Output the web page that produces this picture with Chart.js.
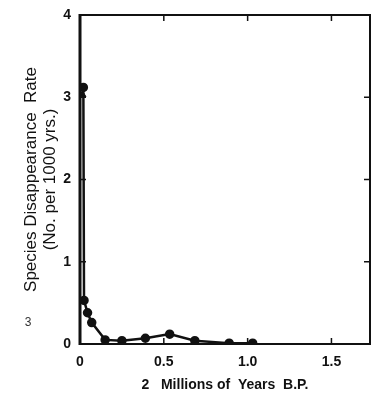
<!DOCTYPE html>
<html>
<head>
<meta charset="utf-8">
<script src="https://cdn.jsdelivr.net/npm/chart.js@4.4.1/dist/chart.umd.min.js"></script>
<style>
  html, body { margin: 0; padding: 0; background: #fff; }
  canvas { display: block; }
</style>
</head>
<body>
<canvas id="c" width="382" height="400"></canvas>
<script>
// values
const yearsMy = [0.02, 0.024, 0.045, 0.07, 0.15, 0.25, 0.39, 0.535, 0.685, 0.89, 1.03];
const rates   = [3.12, 0.53, 0.38, 0.26, 0.05, 0.04, 0.07, 0.12, 0.04, 0.01, 0.01];
const triangleX = [0.015];
const triangleY = [3.03];
const xTicks = [0, 0.5, 1.0, 1.5];
const yTicks = [0, 1, 2, 3, 4];
const xLabels = ["0", "0.5", "1.0", "1.5"];

const ink = "#111";
const font = "'Liberation Sans', Arial, Helvetica, sans-serif";

// frame + inward ticks on all four sides
const framePlugin = {
    id: "frame",
    afterDraw(chart) {
        const { ctx, chartArea: a, scales } = chart;
        ctx.save();
        ctx.strokeStyle = ink;
        ctx.lineWidth = 2;
        ctx.strokeRect(a.left, a.top, a.right - a.left, a.bottom - a.top);
        ctx.lineWidth = 3;
        ctx.beginPath();
        ctx.moveTo(a.left, a.top - 1); ctx.lineTo(a.left, a.bottom + 1);
        ctx.stroke();
        ctx.lineWidth = 1.5;
        ctx.beginPath();
        xTicks.forEach((v) => {
            const px = scales.x.getPixelForValue(v);
            ctx.moveTo(px, a.bottom); ctx.lineTo(px, a.bottom - 6);
            ctx.moveTo(px, a.top); ctx.lineTo(px, a.top + 6);
        });
        yTicks.forEach((v) => {
            const py = scales.y.getPixelForValue(v);
            ctx.moveTo(a.left, py); ctx.lineTo(a.left + 6, py);
            ctx.moveTo(a.right, py); ctx.lineTo(a.right - 6, py);
        });
        ctx.stroke();
        // stray mark left in the scan
        ctx.fillStyle = "#333";
        ctx.font = "12px " + font;
        ctx.textAlign = "center";
        ctx.fillText("3", 28, 326);
        ctx.restore();
    },
};

new Chart(document.getElementById("c"), {
    type: "scatter",
    data: {
        datasets: [
            {
                data: yearsMy.map((x, i) => ({ x, y: rates[i] })),
                showLine: true,
                borderColor: ink,
                backgroundColor: ink,
                borderWidth: 2.5,
                pointRadius: 3.5,
                tension: 0,
            },
            {
                data: triangleX.map((x, i) => ({ x, y: triangleY[i] })),
                pointStyle: "triangle",
                pointRadius: 4,
                borderColor: ink,
                backgroundColor: ink,
            },
        ],
    },
    options: {
        responsive: false,
        animation: false,
        layout: { padding: { left: 0, right: 12, top: 15, bottom: 0 } },
        plugins: { legend: { display: false }, tooltip: { enabled: false } },
        scales: {
            x: {
                type: "linear",
                min: 0,
                max: 1.73,
                afterBuildTicks: (s) => { s.ticks = xTicks.map((v) => ({ value: v })); },
                afterFit: (s) => { s.height = 56; },
                grid: { display: false },
                border: { display: false },
                ticks: {
                    color: ink,
                    padding: 2,
                    font: { family: font, size: 14, weight: "bold" },
                    callback: (v) => xLabels[xTicks.indexOf(v)],
                },
                title: {
                    display: true,
                    text: "2   Millions of  Years  B.P.",
                    color: ink,
                    padding: { top: 5, bottom: 6 },
                    font: { family: font, size: 14, weight: "bold" },
                },
            },
            y: {
                min: 0,
                max: 4,
                afterBuildTicks: (s) => { s.ticks = yTicks.map((v) => ({ value: v })); },
                afterFit: (s) => { s.width = 80; },
                grid: { display: false },
                border: { display: false },
                ticks: {
                    color: ink,
                    padding: 1,
                    font: { family: font, size: 14, weight: "bold" },
                },
                title: {
                    display: true,
                    text: ["Species Disappearance  Rate", "(No. per 1000 yrs.)"],
                    color: ink,
                    padding: { top: 22, bottom: 0 },
                    font: { family: font, size: 17, lineHeight: 1.1 },
                },
            },
        },
    },
    plugins: [framePlugin],
});
</script>
</body>
</html>
